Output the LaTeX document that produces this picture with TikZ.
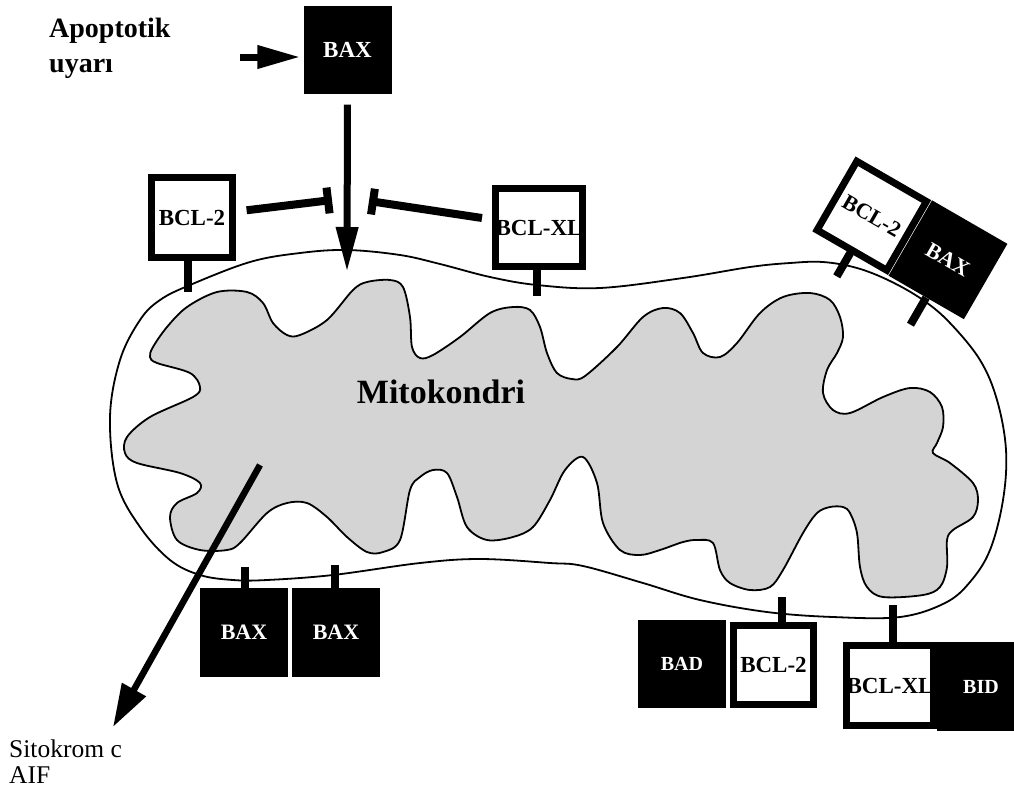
\documentclass[tikz,border=0pt]{standalone}
\usepackage{fontspec}
\setmainfont{Liberation Serif}
\usetikzlibrary{arrows.meta}
\definecolor{matrixgray}{RGB}{212,212,212}
% thick square frame drawn over a box node (covers any text overflow)
\newcommand\outlinebox[1]{\draw[boxedge] (#1.south west) -- (#1.south east) -- (#1.north east) -- (#1.north west) -- cycle;}

\begin{document}
\begin{tikzpicture}[x=1pt,y=-1pt,
  lbl/.style={font=\bfseries\fontsize{23}{23}\selectfont},
  darkbox/.style={fill=black, text=white, inner sep=0pt, minimum width=88pt, minimum height=88pt, lbl},
  lightbox/.style={fill=white, text=black, inner sep=0pt, minimum width=80pt, minimum height=79pt, lbl},
  boxedge/.style={draw=black, line width=7pt, line join=miter},
  stem/.style={line width=8pt},
  membrane/.style={draw=black, line width=1.8pt},
  push/.style={line width=7pt, -{Triangle[length=43pt,width=22pt]}},
  block/.style={line width=8pt, -{Bar[width=26pt]}},
]
\useasboundingbox (0,0) rectangle (1014,796);
\fill[white] (0,0) rectangle (1014,796);

% outer membrane
\draw[membrane, fill=white] plot[smooth cycle, tension=0.6] coordinates {
  (347,250) (400,255) (440,264) (490,277) (537,285) (600,288) (683,278)
  (750,267) (790,263) (823,262) (857,268) (890,281) (923,300) (950,323)
  (980,360) (997,400) (1006,450) (1003,500) (990,550) (970,582) (945,603)
  (900,617) (833,617) (767,612) (700,600) (643,583) (583,566) (550,563)
  (480,559) (420,563) (333,575) (267,580) (233,580) (200,575) (170,560)
  (140,527) (117,483) (110,417) (120,360) (140,320) (160,300) (190,285)
  (250,262) (300,253)};

% inner membrane (cristae)
\draw[membrane, fill=matrixgray] plot[smooth cycle, tension=0.55] coordinates {
  (153,347) (167,327) (187,307) (217,292) (247,292) (263,303) (273,323)
  (287,335) (300,335) (327,320) (353,290) (367,282) (390,280) (403,287)
  (410,317) (412,347) (420,358) (433,355) (460,337) (490,313) (513,307)
  (530,310) (540,327) (547,353) (557,373) (572,379) (585,376) (617,347)
  (643,317) (663,308) (680,313) (693,333) (703,353) (720,357) (737,343)
  (760,313) (783,297) (810,293) (830,300) (840,317) (843,337) (837,353)
  (827,370) (823,393) (833,410) (850,413) (883,397) (910,388) (930,392)
  (942,407) (943,427) (937,443) (933,453) (950,463) (973,483) (978,500)
  (973,517) (953,530) (947,540) (947,567) (940,587) (923,595) (883,597)
  (867,587) (860,567) (857,533) (850,513) (843,507) (830,507) (817,513)
  (803,533) (783,570) (770,587) (750,590) (730,583) (720,570) (713,543)
  (697,540) (683,542) (660,550) (640,555) (620,550) (603,523) (597,483)
  (583,457) (565,470) (550,500) (533,527) (513,537) (487,540) (467,527)
  (457,497) (447,473) (433,470) (420,477) (410,490) (400,540) (383,552)
  (367,552) (347,537) (327,517) (307,503) (287,503) (267,513) (240,543)
  (227,550) (200,550) (177,540) (170,517) (177,503) (197,493) (200,483)
  (180,473) (137,463) (125,453) (127,437) (150,417) (193,397) (200,387)
  (190,373) (157,363) (150,357)};

% proteins
\node[darkbox] (baxtop) at (347.5,49.5) {BAX};
\node[lightbox] (bcltl) at (192,217.5) {BCL-2};
\node[lightbox, minimum width=81pt, minimum height=78pt] (bclxltop) at (539,227.5) {BCL-XL};
\node[darkbox, font=\bfseries\fontsize{22}{22}\selectfont, minimum height=89pt] (baxb1) at (244,632.5) {BAX};
\node[darkbox, font=\bfseries\fontsize{22}{22}\selectfont, minimum height=89pt] (baxb2) at (336,632.5) {BAX};
\node[darkbox, font=\bfseries\fontsize{20}{20}\selectfont] (bad) at (682,664) {BAD};
\node[lightbox] (bclb) at (773.5,665) {BCL-2};
\node[lightbox] (bclxlb) at (890,685.5) {BCL-XL};
\node[darkbox, font=\bfseries\fontsize{20}{20}\selectfont, minimum height=89pt] (bid) at (981,686.5) {BID};

\begin{scope}[shift={(871.75,215.75)}, rotate=-30]
  \node[lightbox, rotate=-30, font=\bfseries\fontsize{22}{22}\selectfont] (bclr) at (0,0) {BCL-2};
  \node[darkbox, rotate=-30, font=\bfseries\fontsize{22}{22}\selectfont, minimum width=87pt, minimum height=87pt] (baxr) at (88,0) {BAX};
  \coordinate (sr1) at (0,70);
  \coordinate (sr2) at (88,75);
\end{scope}

% membrane anchors
\coordinate (s1) at (188,292);
\coordinate (s2) at (537,296);
\coordinate (s3) at (245,567);
\coordinate (s4) at (335,565);
\coordinate (s5) at (782,597);
\coordinate (s6) at (893,605);
\draw[stem] (bcltl.south -| s1) -- (s1);
\draw[stem] (bclxltop.south -| s2) -- (s2);
\draw[stem] (baxb1.north -| s3) -- (s3);
\draw[stem] (baxb2.north -| s4) -- (s4);
\draw[stem] (bclb.north -| s5) -- (s5);
\draw[stem] (bclxlb.north -| s6) -- (s6);
\draw[stem] (bclr.south) -- (sr1);
\draw[stem] (baxr.south) -- (sr2);

\outlinebox{bcltl}
\outlinebox{bclxltop}
\outlinebox{bclb}
\outlinebox{bclxlb}
\outlinebox{bclr}

% labels
\node[anchor=north west, align=left, inner sep=0pt, font=\bfseries\fontsize{28}{35}\selectfont] (stim) at (49,18) {Apoptotik\\uyarı};
\node[anchor=base, font=\bfseries\fontsize{34}{34}\selectfont] (mito) at (441,403) {Mitokondri};
\node[anchor=north west, align=left, inner sep=0pt, font=\fontsize{25.5}{26}\selectfont] (cyt) at (9,740) {Sitokrom c\\AIF};

% signalling arrows
\coordinate (stimstart) at (240,57);
\draw[push, shorten >=3pt] (stimstart) -- ([yshift=-7.5pt]baxtop.west);
\coordinate (memtip) at (347,272);
\draw[push, shorten <=11pt, -{Triangle[length=45pt,width=21pt]}] (baxtop.south) -- (memtip);
\coordinate (blockl) at (332,200);
\coordinate (blockr) at (369,201);
\draw[block, shorten <=14.5pt] ([yshift=5.5pt]bcltl.east) -- (blockl);
\draw[block, shorten <=13.5pt] ([yshift=7.5pt]bclxltop.west) -- (blockr);
\coordinate (relsrc) at (260,465);
\coordinate (reldst) at (113,727);
\draw[line width=6.5pt, -{Triangle[length=43pt,width=26pt]}] (relsrc) -- (reldst);
\end{tikzpicture}
\end{document}
